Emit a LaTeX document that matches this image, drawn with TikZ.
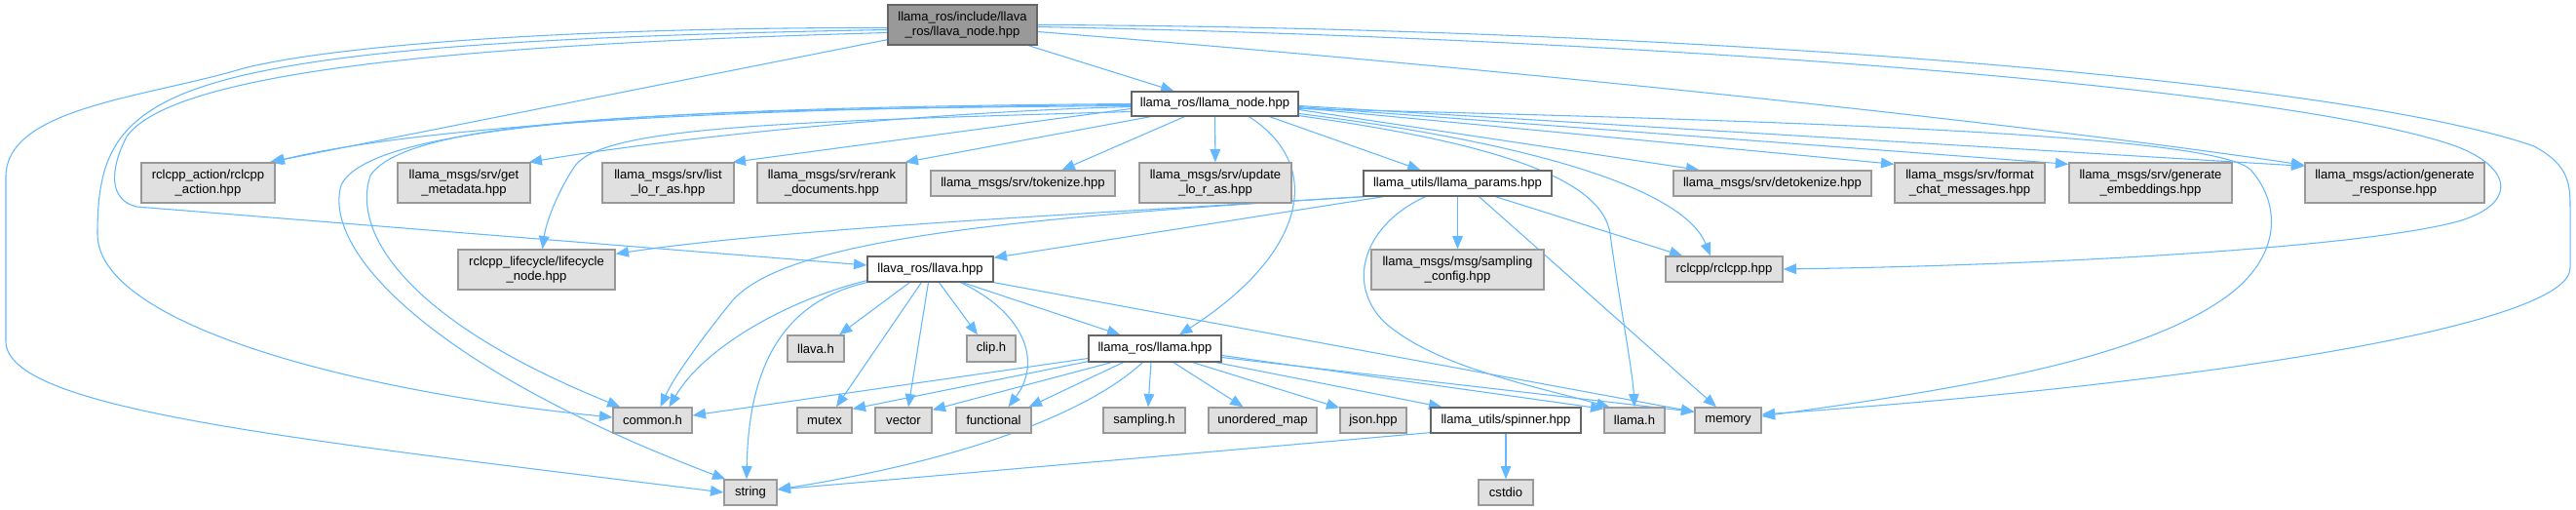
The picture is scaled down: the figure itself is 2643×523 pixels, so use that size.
\documentclass[tikz,border=0pt]{standalone}
\usepackage{fontspec}
\setmainfont{Liberation Sans}
\usetikzlibrary{arrows.meta,calc}
\definecolor{edgeblue}{HTML}{63B8FF}
\definecolor{boxgray}{HTML}{E0E0E0}
\definecolor{bordergray}{HTML}{999999}
\definecolor{borderdark}{HTML}{666666}
\definecolor{rootgray}{HTML}{999999}
\pgfdeclarelayer{bg}
\pgfdeclarelayer{edges}
\pgfsetlayers{bg,edges,main}
\newcommand{\dgfont}{\fontsize{9.8}{11.25}\selectfont}
\tikzset{
  bw/.style={minimum width=#1*0.75pt},
  bh/.style={minimum height=#1*0.75pt},
  basebox/.style={rectangle, inner sep=0pt, align=center, font=\dgfont, line width=1pt},
  gbox/.style={basebox, fill=boxgray, draw=bordergray},
  wbox/.style={basebox, fill=white, draw=borderdark},
  rbox/.style={basebox, fill=rootgray, draw=borderdark},
  conn/.style={draw=edgeblue, line width=0.8pt, line join=round, -{Triangle[length=10pt,width=8pt]}},
}
\begin{document}
\begin{tikzpicture}[x=0.75pt,y=-0.75pt]
\begin{pgfonlayer}{bg}
\fill[white] (0,0) rectangle (2643,523);
\end{pgfonlayer}
\useasboundingbox (0,0) rectangle (2643,523);

% nodes
\node[rbox,bw=153,bh=41] (root) at (987.5,25.5) {llama\_ros/include/llava\\\_ros/llava\_node.hpp};
\node[wbox,bw=171,bh=25] (lnode) at (1246.5,106.5) {llama\_ros/llama\_node.hpp};
\node[gbox,bw=137,bh=41] (ract) at (213.5,187.5) {rclcpp\_action/rclcpp\\\_action.hpp};
\node[gbox,bw=136,bh=41] (gmeta) at (476,187.5) {llama\_msgs/srv/get\\\_metadata.hpp};
\node[gbox,bw=135,bh=41] (list) at (685.5,187.5) {llama\_msgs/srv/list\\\_lo\_r\_as.hpp};
\node[gbox,bw=153,bh=41] (rerank) at (853.5,187.5) {llama\_msgs/srv/rerank\\\_documents.hpp};
\node[gbox,bw=189,bh=26] (tok) at (1049.5,188) {llama\_msgs/srv/tokenize.hpp};
\node[gbox,bw=156,bh=41] (upd) at (1247,187.5) {llama\_msgs/srv/update\\\_lo\_r\_as.hpp};
\node[wbox,bw=193,bh=26] (lparams) at (1495.5,188) {llama\_utils/llama\_params.hpp};
\node[gbox,bw=203,bh=26] (detok) at (1818.5,188) {llama\_msgs/srv/detokenize.hpp};
\node[gbox,bw=154,bh=41] (fchat) at (2021,187.5) {llama\_msgs/srv/format\\\_chat\_messages.hpp};
\node[gbox,bw=167,bh=41] (gemb) at (2206.5,187.5) {llama\_msgs/srv/generate\\\_embeddings.hpp};
\node[gbox,bw=184,bh=41] (gresp) at (2457,187.5) {llama\_msgs/action/generate\\\_response.hpp};
\node[gbox,bw=161,bh=41] (lcycle) at (550.5,276.5) {rclcpp\_lifecycle/lifecycle\\\_node.hpp};
\node[wbox,bw=129,bh=26] (llavahpp) at (954.5,276) {llava\_ros/llava.hpp};
\node[gbox,bw=177,bh=41] (sconf) at (1495.5,276.5) {llama\_msgs/msg/sampling\\\_config.hpp};
\node[gbox,bw=120,bh=26] (rcl) at (1769,276) {rclcpp/rclcpp.hpp};
\node[gbox,bw=58,bh=27] (llavah) at (837,357.5) {llava.h};
\node[gbox,bw=50,bh=27] (cliph) at (1017,357.5) {clip.h};
\node[wbox,bw=136,bh=27] (llamahpp) at (1185,357.5) {llama\_ros/llama.hpp};
\node[gbox,bw=81,bh=26] (commonh) at (669.5,431) {common.h};
\node[gbox,bw=56,bh=26] (mutex) at (846,431) {mutex};
\node[gbox,bw=58,bh=26] (vector) at (927,431) {vector};
\node[gbox,bw=77,bh=26] (functional) at (1019.5,431) {functional};
\node[gbox,bw=84,bh=26] (samplingh) at (1174,431) {sampling.h};
\node[gbox,bw=111,bh=26] (umap) at (1295.5,431) {unordered\_map};
\node[gbox,bw=68,bh=26] (json) at (1409,431) {json.hpp};
\node[wbox,bw=154,bh=26] (spinner) at (1545,431) {llama\_utils/spinner.hpp};
\node[gbox,bw=62,bh=26] (llamah) at (1677,431) {llama.h};
\node[gbox,bw=68,bh=26] (memory) at (1773,431) {memory};
\node[gbox,bw=54,bh=26] (string) at (770,505) {string};
\node[gbox,bw=56,bh=26] (cstdio) at (1545,505) {cstdio};

\begin{pgfonlayer}{edges}
% root
\draw[conn] (root) -- (lnode);
\draw[conn] ($(root.south west)+(0,-6)$) -- ($(ract.north east)+(-6,0)$);
\draw[conn] ($(root.west)+(0,3)$) .. controls (600,28) and (350,45) .. (250,70) .. controls (150,100) and (8,110) .. (6,180) -- (6,350) .. controls (6,420) and (300,450) .. (string.west);
\draw[conn] ($(root.west)+(0,5)$) .. controls (500,38) and (250,55) .. (160,110) .. controls (110,140) and (100,180) .. (100,240) .. controls (100,330) and (350,400) .. ($(commonh.west)+(0,-3)$);
\draw[conn] ($(root.west)+(0,8)$) .. controls (500,45) and (180,70) .. (130,140) .. controls (112,175) and (112,205) .. (140,212) -- ($(llavahpp.west)+(0,-4)$);
\draw[conn] ($(root.east)+(0,7)$) .. controls (1600,75) and (2100,130) .. ($(gresp.north west)+(0,3)$);
\draw[conn] ($(root.east)+(0,2)$) .. controls (1700,40) and (2350,90) .. (2520,150) .. controls (2585,175) and (2580,215) .. (2510,230) .. controls (2400,255) and (2100,272) .. (rcl.east);
\draw[conn] (root.east) .. controls (1700,28) and (2400,80) .. (2600,150) .. controls (2637,170) and (2637,190) .. (2637,215) -- (2637,275) .. controls (2637,330) and (2300,390) .. ($(memory.east)+(0,-6)$);
% llama_node
\draw[conn] ($(lnode.west)+(0,1)$) .. controls (800,110) and (450,125) .. ($(ract.north east)+(-4,0)$);
\draw[conn] ($(lnode.west)+(0,3)$) .. controls (950,115) and (700,140) .. ($(gmeta.north east)+(-2,0)$);
\draw[conn] ($(lnode.west)+(0,5)$) -- ($(list.north east)+(-2,0)$);
\draw[conn] ($(lnode.south west)+(20,0)$) -- ($(rerank.north east)+(-2,0)$);
\draw[conn] ($(lnode.south west)+(55,0)$) -- ($(tok.north)+(40,0)$);
\draw[conn] (lnode) -- (upd);
\draw[conn] ($(lnode.south east)+(-30,0)$) -- ($(lparams.north)+(-38,0)$);
\draw[conn] ($(lnode.east)+(0,6)$) -- ($(detok.north west)+(27,0)$);
\draw[conn] ($(lnode.east)+(0,4)$) -- ($(fchat.north west)+(0,2)$);
\draw[conn] ($(lnode.east)+(0,3)$) -- ($(gemb.north west)+(0,2)$);
\draw[conn] ($(lnode.east)+(0,2)$) -- ($(gresp.north west)+(0,4)$);
\draw[conn] ($(lnode.east)+(0,5)$) .. controls (1900,125) and (2280,140) .. (2310,175) .. controls (2340,210) and (2340,260) .. (2290,300) .. controls (2200,370) and (2000,400) .. ($(memory.east)+(0,-4)$);
\draw[conn] ($(lnode.east)+(0,10)$) .. controls (1600,150) and (1730,200) .. ($(rcl.north)+(-14,0)$);
\draw[conn] ($(lnode.south east)+(0,-1)$) .. controls (1560,150) and (1645,190) .. (1652,240) .. controls (1660,300) and (1675,380) .. (llamah.north);
\draw[conn] ($(lnode.south)+(35,0)$) .. controls (1360,170) and (1340,260) .. ($(llamahpp.north)+(25,0)$);
\draw[conn] ($(lnode.west)+(0,8)$) .. controls (800,125) and (620,130) .. (590,170) .. controls (570,200) and (560,230) .. ($(lcycle.north)+(6,0)$);
\draw[conn] ($(lnode.west)+(0,2)$) .. controls (700,112) and (420,120) .. (380,180) .. controls (360,240) and (420,330) .. ($(commonh.north west)+(8,0)$);
\draw[conn] (lnode.west) .. controls (700,110) and (380,125) .. (350,190) .. controls (330,260) and (450,380) .. ($(string.north west)+(2,0)$);
% llama_params
\draw[conn] (lparams.south west) .. controls (1100,220) and (800,235) .. ($(lcycle.north east)+(0,5)$);
\draw[conn] ($(lparams.south west)+(2,0)$) .. controls (1000,225) and (800,250) .. (750,310) .. controls (710,360) and (690,390) .. ($(commonh.north)+(8,0)$);
\draw[conn] ($(lparams.south west)+(21,0)$) -- ($(llavahpp.north east)+(0,2)$);
\draw[conn] (lparams) -- (sconf);
\draw[conn] ($(lparams.south)+(-33,0)$) .. controls (1400,230) and (1380,290) .. (1420,330) .. controls (1470,375) and (1570,395) .. ($(llamah.north west)+(6,0)$);
\draw[conn] ($(lparams.south)+(22,0)$) -- ($(memory.north)+(-12,0)$);
\draw[conn] ($(lparams.south)+(39,0)$) -- ($(rcl.north west)+(18,0)$);
% llava.hpp
\draw[conn] ($(llavahpp.south west)+(0,-2)$) .. controls (800,310) and (720,360) .. ($(commonh.north)+(17,0)$);
\draw[conn] (llavahpp.south west) .. controls (800,310) and (768,380) .. ($(string.north)+(-4,0)$);
\draw[conn] ($(llavahpp.south west)+(44,0)$) -- ($(llavah.north)+(24,0)$);
\draw[conn] ($(llavahpp.south west)+(56,0)$) -- ($(mutex.north)+(12,0)$);
\draw[conn] ($(llavahpp.south)+(-2,0)$) -- ($(vector.north)+(5,0)$);
\draw[conn] ($(llavahpp.south)+(9,0)$) -- ($(cliph.north)+(-14,0)$);
\draw[conn] ($(llavahpp.south)+(31,0)$) .. controls (1050,320) and (1070,370) .. ($(functional.north)+(15,0)$);
\draw[conn] ($(llavahpp.south)+(33,0)$) -- ($(llamahpp.north west)+(33,0)$);
\draw[conn] (llavahpp.south east) -- ($(memory.north west)+(0,5)$);
% llama.hpp
\draw[conn] ($(llamahpp.west)+(0,10)$) -- ($(commonh.east)+(0,-5)$);
\draw[conn] ($(llamahpp.south west)+(0,-1)$) -- ($(mutex.north east)+(0,2)$);
\draw[conn] ($(llamahpp.south west)+(24,0)$) -- ($(vector.north east)+(0,3)$);
\draw[conn] ($(llamahpp.south west)+(36,0)$) -- ($(functional.north east)+(-3,0)$);
\draw[conn] ($(llamahpp.south west)+(56,0)$) .. controls (1120,420) and (1000,470) .. ($(string.east)+(0,-3)$);
\draw[conn] ($(llamahpp.south)+(-4,0)$) -- ($(samplingh.north)+(4,0)$);
\draw[conn] ($(llamahpp.south)+(19,0)$) -- ($(umap.north)+(-20,0)$);
\draw[conn] ($(llamahpp.south)+(39,0)$) -- ($(json.north west)+(0,1)$);
\draw[conn] ($(llamahpp.south east)+(-6,0)$) -- ($(spinner.north west)+(12,0)$);
\draw[conn] ($(llamahpp.east)+(0,7)$) -- ($(llamah.north west)+(0,2)$);
\draw[conn] ($(llamahpp.east)+(0,9)$) -- ($(memory.north west)+(0,5)$);
% spinner
\draw[conn] ($(spinner.south west)+(0,-1)$) -- ($(string.east)+(0,-3)$);
\draw[conn] (spinner) -- (cstdio);
\end{pgfonlayer}
\end{tikzpicture}
\end{document}
